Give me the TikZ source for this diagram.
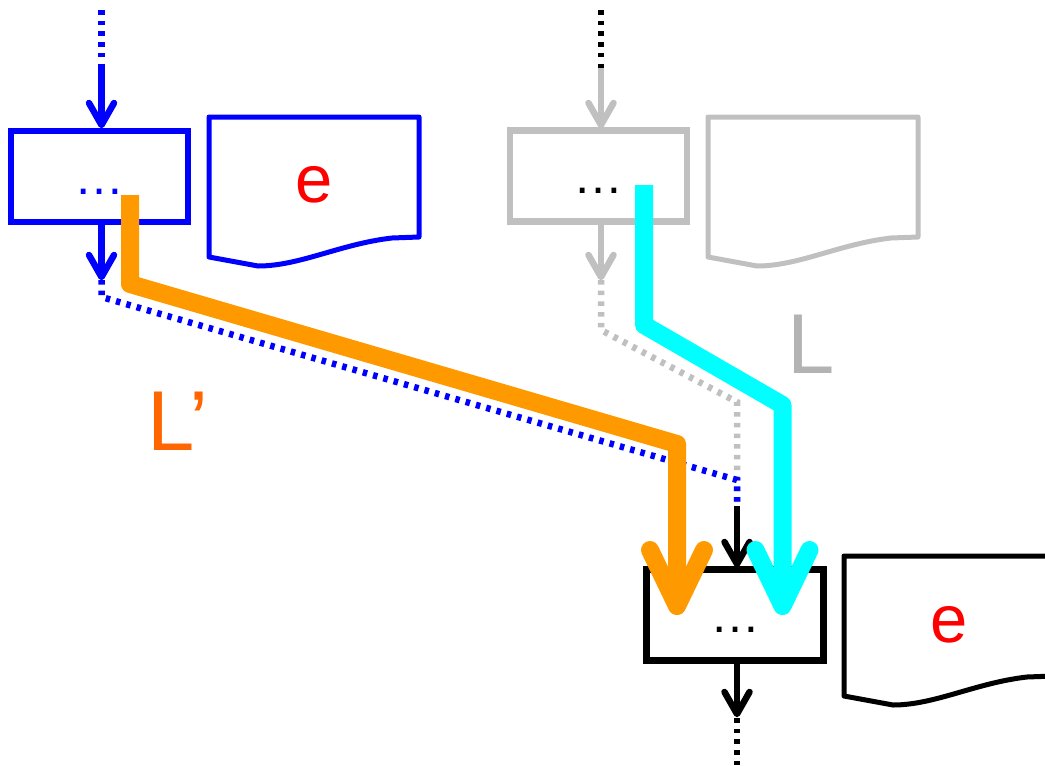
\documentclass[tikz,border=0pt]{standalone}
\usepackage{fontspec}
\setmainfont{Liberation Sans}
\definecolor{myblue}{HTML}{0000FF}
\definecolor{mygray}{HTML}{C0C0C0}
\definecolor{lgray}{HTML}{B3B3B3}
\definecolor{myorange}{HTML}{FF9900}
\definecolor{lorange}{HTML}{FF6600}
\definecolor{mycyan}{HTML}{00FFFF}
\definecolor{myred}{HTML}{FF0000}
\newcommand\docpath{(0,0) -- (210,0) -- (210,120) -- (183,121) .. controls (131,127) and (91,149) .. (49,149) -- (0,140) -- cycle}
\begin{document}
\begin{tikzpicture}[x=1pt,y=-1pt,
  box/.style={draw, rectangle, minimum width=177pt, minimum height=91pt, inner sep=0pt,
    line width=6.5pt, font=\fontsize{50}{50}\selectfont, text height=35pt, text depth=0pt},
  docline/.style={line width=5pt, line join=round},
  etext/.style={font=\fontsize{67}{67}\selectfont, text=myred, inner sep=0pt},
  ltext/.style={font=\fontsize{85}{85}\selectfont, inner sep=0pt, anchor=base west},
  small/.style={line width=6.5pt},
  smallhead/.style={line width=6.5pt, line cap=round, line join=round},
  dotline/.style={line width=6.5pt, dash pattern=on 4.5pt off 6.2pt},
  big/.style={line width=18pt, line join=round},
  bighead/.style={line width=18pt, line cap=round, line join=round}
]
\useasboundingbox (0,0) rectangle (1045,766);
\clip (0,0) rectangle (1045,766);

% boxes
\node[box, draw=myblue, text=myblue] (b1) at (99.5,176.5) {…};
\node[box, draw=mygray, text=black] (b2) at (598.5,176) {…};
\node[box, draw=black, text=black] (b3) at (735,615) {…};

% documents
\draw[docline, myblue, shift={(209,117)}] \docpath;
\draw[docline, mygray, shift={(708,117)}] \docpath;
\draw[docline, black, shift={(844,556)}] \docpath;
\node[etext] (e1) at (314,185) {e};
\node[etext] (e3) at (949,624.5) {e};

% labels
\node[ltext, text=lgray] (L) at (787,373) {L};
\node[ltext, text=lorange] (Lp) at (147,450) {L’};

% coordinates
\coordinate (t1) at (101.5,10);
\coordinate (t1b) at (101.5,68);
\coordinate (h1) at (101.5,125);
\coordinate (a1) at (101.5,277);
\coordinate (m1) at (101.5,297);
\coordinate (m2) at (737,480);
\coordinate (j) at (737,506);
\coordinate (t2) at (601,10);
\coordinate (t2b) at (601,68);
\coordinate (h2) at (601,125);
\coordinate (a2) at (601,277);
\coordinate (g1) at (601,330);
\coordinate (g2) at (737,402);
\coordinate (h3) at (737,564);
\coordinate (a3) at (737,714);
\coordinate (z3) at (737,770);

% left flow
\draw[dotline, myblue] (t1) -- (t1b);
\draw[small, myblue] (t1b) -- (h1);
\draw[smallhead, myblue] (h1) ++(-12.5,-22) -- (h1) -- ++(12.5,-22);
\draw[small, myblue] (a1 |- b1.south) -- (a1);
\draw[smallhead, myblue] (a1) ++(-12.5,-22) -- (a1) -- ++(12.5,-22);

% right flow
\draw[dotline, black] (t2) -- (t2b);
\draw[small, mygray] (t2b) -- (h2);
\draw[smallhead, mygray] (h2) ++(-12.5,-22) -- (h2) -- ++(12.5,-22);
\draw[small, mygray] (a2 |- b2.south) -- (a2);
\draw[smallhead, mygray] (a2) ++(-12.5,-22) -- (a2) -- ++(12.5,-22);
\draw[dotline, mygray] (a2) ++(0,3) -- (g1) -- (g2) -- (j);

\draw[dotline, myblue] (a1) ++(0,3) -- (m1) -- (m2) -- (j);

% bottom flow
\draw[small, black] (j) -- (h3);
\draw[smallhead, black] (h3) ++(-12.5,-22) -- (h3) -- ++(12.5,-22);
\draw[small, black] (a3 |- b3.south) -- (a3);
\draw[smallhead, black] (a3) ++(-12.5,-22) -- (a3) -- ++(12.5,-22);
\draw[dotline, black] (a3) ++(0,4) -- (z3);

% big arrows
\coordinate (o0) at (130,195);
\coordinate (o1) at (130,284);
\coordinate (o2) at (677,444);
\coordinate (o3) at (677,606);
\coordinate (c0) at (644,185);
\coordinate (c1) at (644,325);
\coordinate (c2) at (782.5,405);
\coordinate (c3) at (782.5,606);
\draw[big, myorange] (o0) -- (o1) -- (o2) -- (o3);
\draw[bighead, myorange] (o3) ++(-27,-56) -- (o3) -- ++(27,-56);
\draw[big, mycyan] (c0) -- (c1) -- (c2) -- (c3);
\draw[bighead, mycyan] (c3) ++(-27,-56) -- (c3) -- ++(27,-56);
\end{tikzpicture}
\end{document}
